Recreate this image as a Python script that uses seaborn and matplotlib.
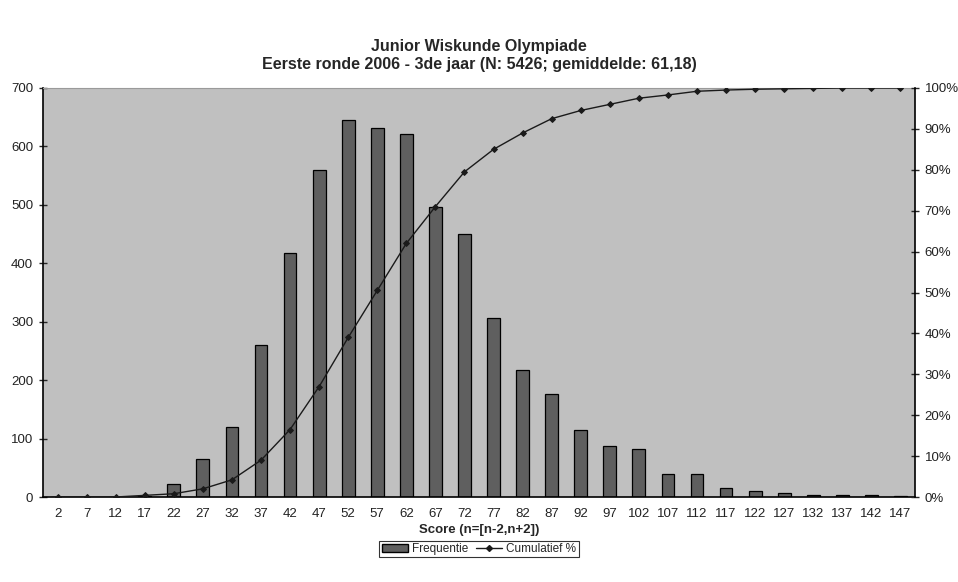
import numpy as np
import pandas as pd
import matplotlib
matplotlib.use("Agg")
import matplotlib.pyplot as plt
import seaborn as sns
from matplotlib.ticker import PercentFormatter, FixedLocator
from matplotlib.patches import Patch
from matplotlib.lines import Line2D

scores = [2, 7, 12, 17, 22, 27, 32, 37, 42, 47, 52, 57, 62, 67, 72, 77, 82, 87,
          92, 97, 102, 107, 112, 117, 122, 127, 132, 137, 142, 147]
frequentie = [0, 0, 0, 2, 22, 65, 120, 260, 418, 560, 645, 632, 622, 497, 450,
              307, 218, 177, 114, 88, 82, 40, 40, 15, 11, 6, 4, 3, 3, 2]
cumulatief = [0.0, 0.0, 0.0, 0.4, 0.8, 2.0, 4.2, 9.0, 16.5, 27.0, 39.0, 50.5,
              62.0, 71.0, 79.5, 85.0, 89.0, 92.5, 94.5, 96.0, 97.5, 98.3, 99.2,
              99.5, 99.7, 99.8, 99.9, 100.0, 100.0, 100.0]
title1 = "Junior Wiskunde Olympiade"
title2 = "Eerste ronde 2006 - 3de jaar (N: 5426; gemiddelde: 61,18)"
xlabel = "Score (n=[n-2,n+2])"

sns.set_style("white")
plt.rcParams["font.family"] = ["Liberation Sans", "DejaVu Sans"]

df = pd.DataFrame({"score": [str(s) for s in scores],
                   "freq": frequentie,
                   "cum": cumulatief})

fig = plt.figure(figsize=(9.58, 5.82), dpi=100)
ax = fig.add_axes([43/958, 1-497/582, (915-43)/958, (497-88)/582])
ax.set_facecolor("#c0c0c0")

sns.barplot(data=df, x="score", y="freq", ax=ax, color="#5f5f5f",
            edgecolor="black", linewidth=0.9, width=0.44, saturation=1)
ax.set_xlim(-0.5, len(scores) - 0.5)
ax.set_ylim(0, 700)
ax.set_yticks(range(0, 701, 100))
ax.set_ylabel("")
ax.tick_params(axis="x", which="major", length=0, labelsize=9.5, pad=8, colors="#222222")
ax.xaxis.set_minor_locator(FixedLocator(np.arange(-0.5, len(scores), 1.0)))
ax.tick_params(axis="x", which="minor", length=6, direction="inout", width=1, color="black")
ax.tick_params(axis="y", length=6, direction="inout", width=1, labelsize=9.5, pad=4,
               labelcolor="#222222")
for s in ["left", "bottom"]:
    ax.spines[s].set_color("black")
    ax.spines[s].set_linewidth(1.2)
ax.spines["top"].set_color("#9a9a9a")
ax.spines["right"].set_visible(False)

ax2 = ax.twinx()
sns.pointplot(data=df, x="score", y="cum", ax=ax2, color="#1a1a1a",
              markers="D", markersize=3, linewidth=1.0, errorbar=None)
ax2.set_xlim(-0.5, len(scores) - 0.5)
ax2.set_ylim(0, 100)
ax2.set_yticks(range(0, 101, 10))
ax2.yaxis.set_major_formatter(PercentFormatter(decimals=0))
ax2.set_ylabel("")
ax2.tick_params(axis="y", length=6, direction="inout", width=1, labelsize=9.5, pad=4,
                labelcolor="#222222")
ax2.spines["right"].set_color("black")
ax2.spines["right"].set_linewidth(1.2)
for s in ["left", "top", "bottom"]:
    ax2.spines[s].set_visible(False)

ax.set_xlabel(xlabel, fontsize=9.5, fontweight="bold", labelpad=3)

fig.text(0.5, 1-47/582, title1, ha="center", va="center", fontsize=11.5, fontweight="bold")
fig.text(0.5, 1-65/582, title2, ha="center", va="center", fontsize=11.5, fontweight="bold")

handles = [Patch(facecolor="#5f5f5f", edgecolor="black", label="Frequentie"),
           Line2D([0], [0], color="#1a1a1a", marker="D", markersize=3, lw=1.0,
                  label="Cumulatief %")]
leg = fig.legend(handles=handles, loc="center", bbox_to_anchor=(0.5, 1-549/582),
                 ncol=2, fontsize=8.5, frameon=True, fancybox=False, edgecolor="black",
                 handlelength=2.2, columnspacing=0.6, handletextpad=0.4,
                 borderpad=0.2)
leg.get_frame().set_linewidth(0.8)

fig.savefig("out.png", dpi=100, facecolor="white")
